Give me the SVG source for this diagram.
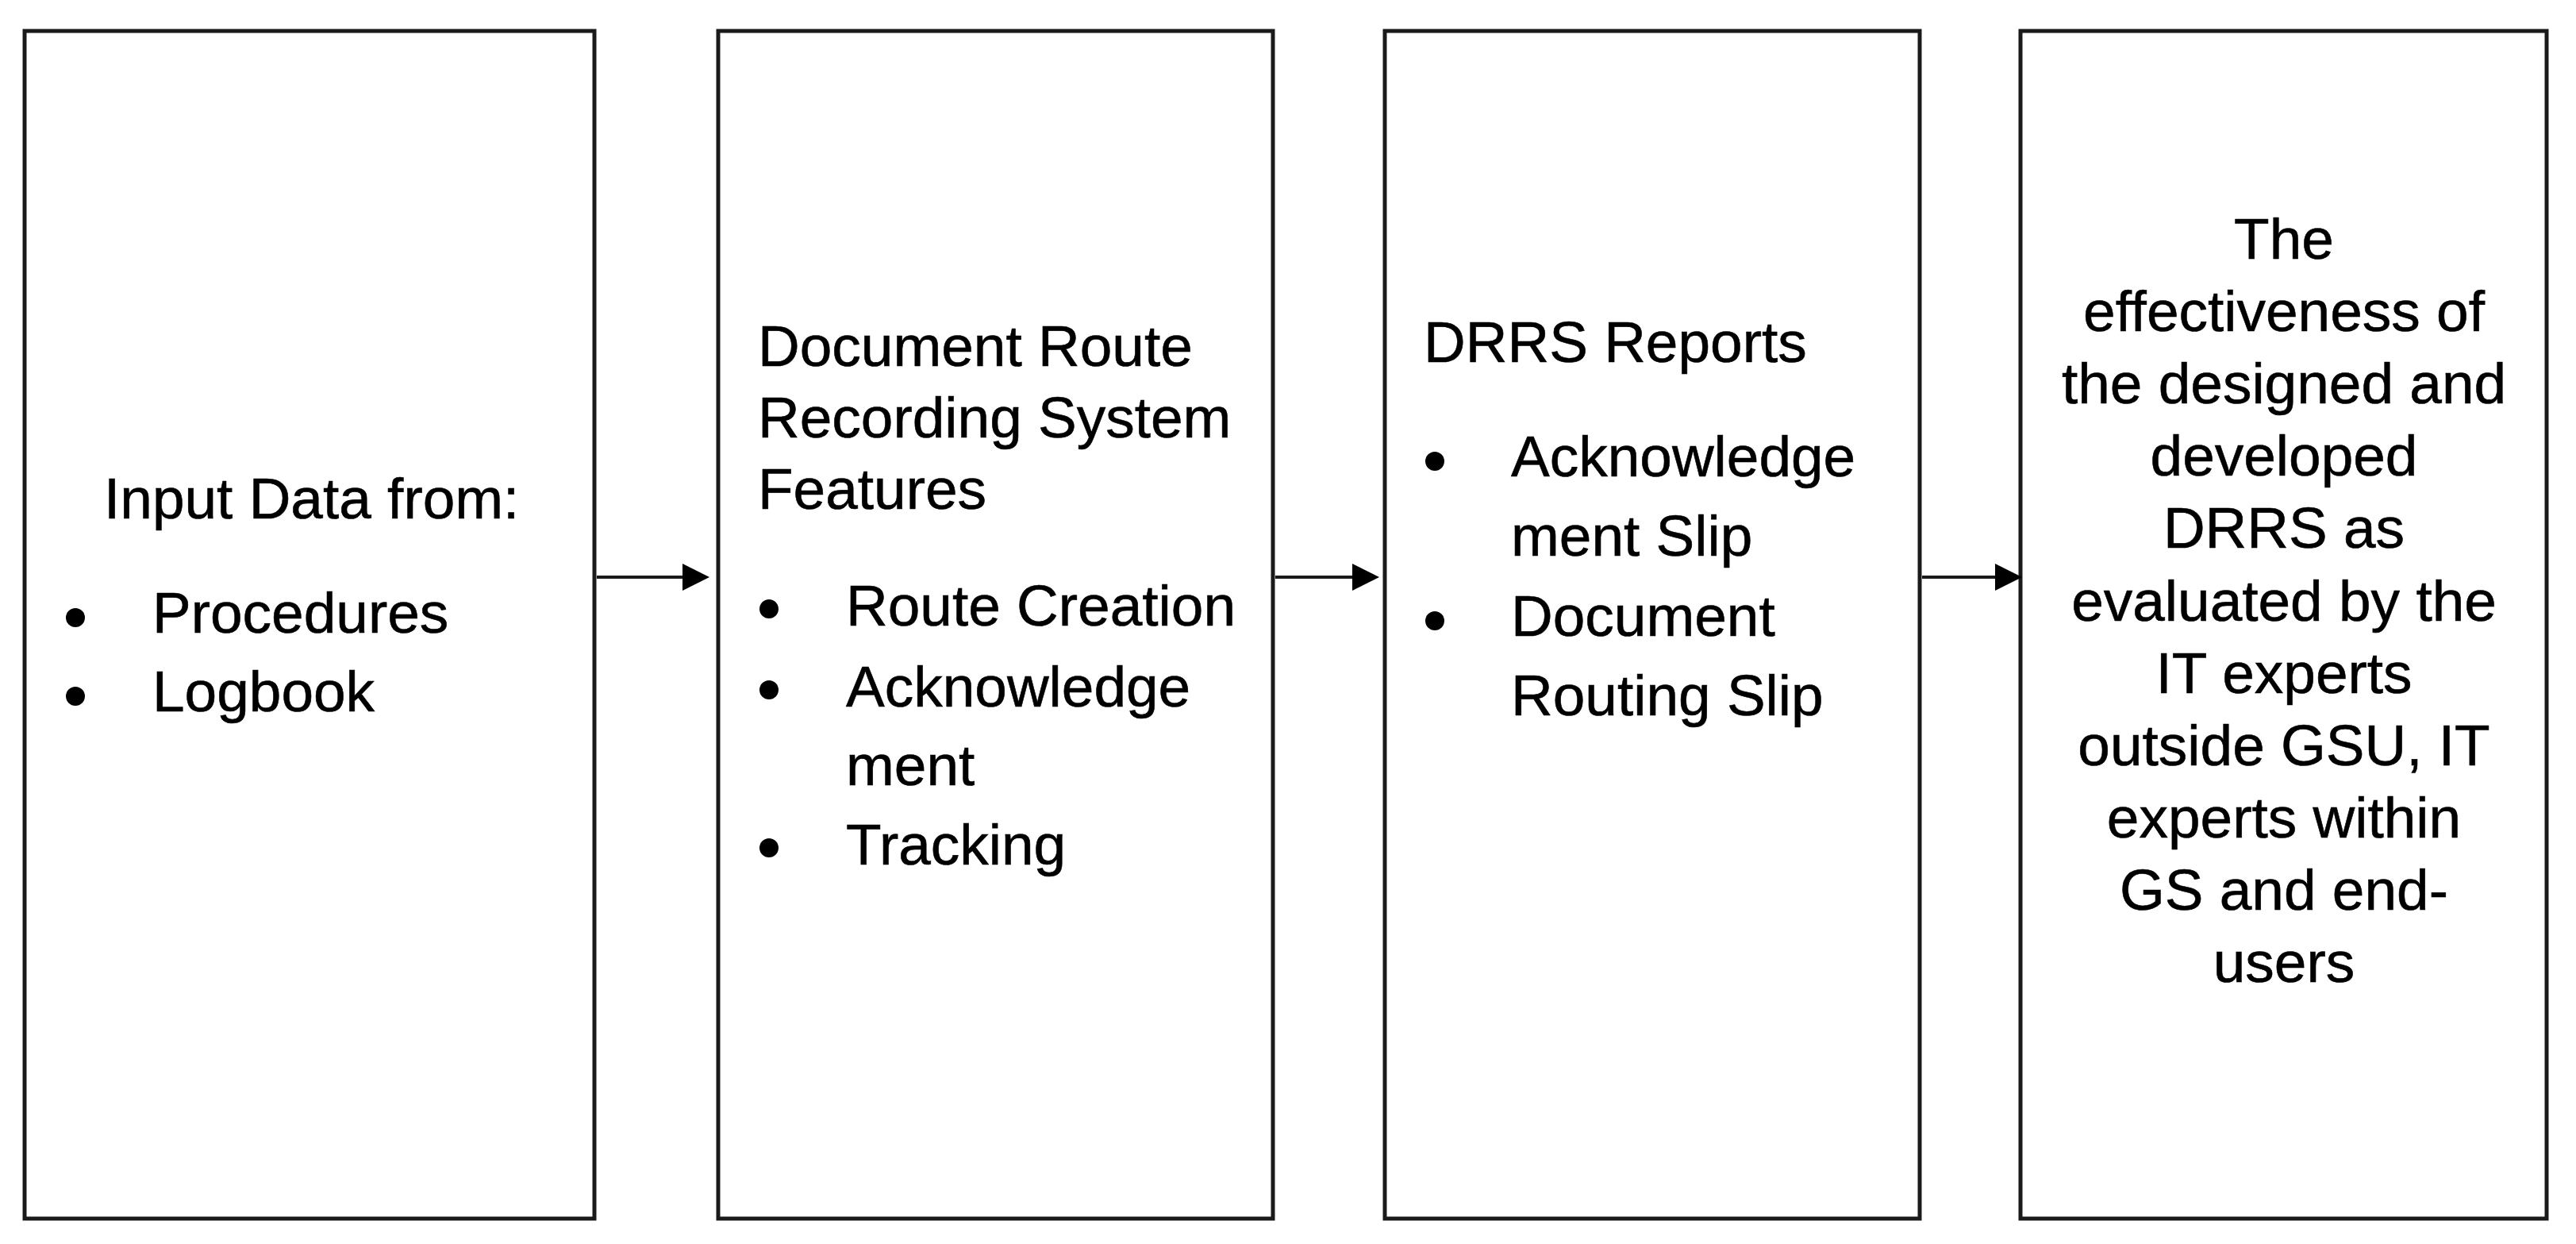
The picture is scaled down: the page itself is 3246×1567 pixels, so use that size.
<svg xmlns="http://www.w3.org/2000/svg" width="3246" height="1567" viewBox="0 0 3246 1567">
<style>
.box{fill:#fff;stroke:#1a1a1a;stroke-width:5}
.t{font-family:"Liberation Sans",Arial,Helvetica,sans-serif;font-size:73px;fill:#000;stroke:#000;stroke-width:0.6}
.c{text-anchor:middle}
.b{fill:#000}
.conn{stroke:#1a1a1a;stroke-width:4;fill:none}
</style>
<defs>
<marker id="ah" markerUnits="userSpaceOnUse" markerWidth="36" markerHeight="36" refX="4" refY="17" orient="auto" viewBox="0 0 36 36">
<path d="M0,0 L34,17 L0,34 Z" fill="#000"/>
</marker>
</defs>
<rect width="3246" height="1567" fill="#fff"/>
<g id="node-input">
<rect class="box" x="31" y="39" width="718" height="1496"/>
<text class="t" x="131" y="653">Input Data from:</text>
<circle class="b" cx="95" cy="778" r="12"/>
<text class="t" x="192" y="797">Procedures</text>
<circle class="b" cx="95" cy="877" r="12"/>
<text class="t" x="192" y="896">Logbook</text>
</g>
<g id="node-features">
<rect class="box" x="905" y="39" width="699" height="1496"/>
<text class="t" x="955" y="461">Document Route</text>
<text class="t" x="955" y="551">Recording System</text>
<text class="t" x="955" y="641">Features</text>
<circle class="b" cx="969" cy="767" r="12"/>
<text class="t" x="1066" y="788">Route Creation</text>
<circle class="b" cx="969" cy="869" r="12"/>
<text class="t" x="1066" y="890">Acknowledge</text>
<text class="t" x="1066" y="989">ment</text>
<circle class="b" cx="969" cy="1068" r="12"/>
<text class="t" x="1066" y="1089">Tracking</text>
</g>
<g id="node-reports">
<rect class="box" x="1745" y="39" width="674" height="1496"/>
<text class="t" x="1794" y="456">DRRS Reports</text>
<circle class="b" cx="1808" cy="581" r="12"/>
<text class="t" x="1904" y="600">Acknowledge</text>
<text class="t" x="1904" y="700">ment Slip</text>
<circle class="b" cx="1808" cy="782" r="12"/>
<text class="t" x="1904" y="801">Document</text>
<text class="t" x="1904" y="901">Routing Slip</text>
</g>
<g id="node-effectiveness">
<rect class="box" x="2546" y="39" width="663" height="1496"/>
<text class="t c" x="2878" y="326">The</text>
<text class="t c" x="2878" y="417">effectiveness of</text>
<text class="t c" x="2878" y="508">the designed and</text>
<text class="t c" x="2878" y="599">developed</text>
<text class="t c" x="2878" y="690">DRRS as</text>
<text class="t c" x="2878" y="782">evaluated by the</text>
<text class="t c" x="2878" y="873">IT experts</text>
<text class="t c" x="2878" y="964">outside GSU, IT</text>
<text class="t c" x="2878" y="1055">experts within</text>
<text class="t c" x="2878" y="1146">GS and end-</text>
<text class="t c" x="2878" y="1237">users</text>
</g>
<g id="connectors">
<line class="conn" x1="752" y1="727" x2="864" y2="727" marker-end="url(#ah)"/>
<line class="conn" x1="1607" y1="727" x2="1708" y2="727" marker-end="url(#ah)"/>
<line class="conn" x1="2422" y1="727" x2="2518" y2="727" marker-end="url(#ah)"/>
</g>
</svg>
